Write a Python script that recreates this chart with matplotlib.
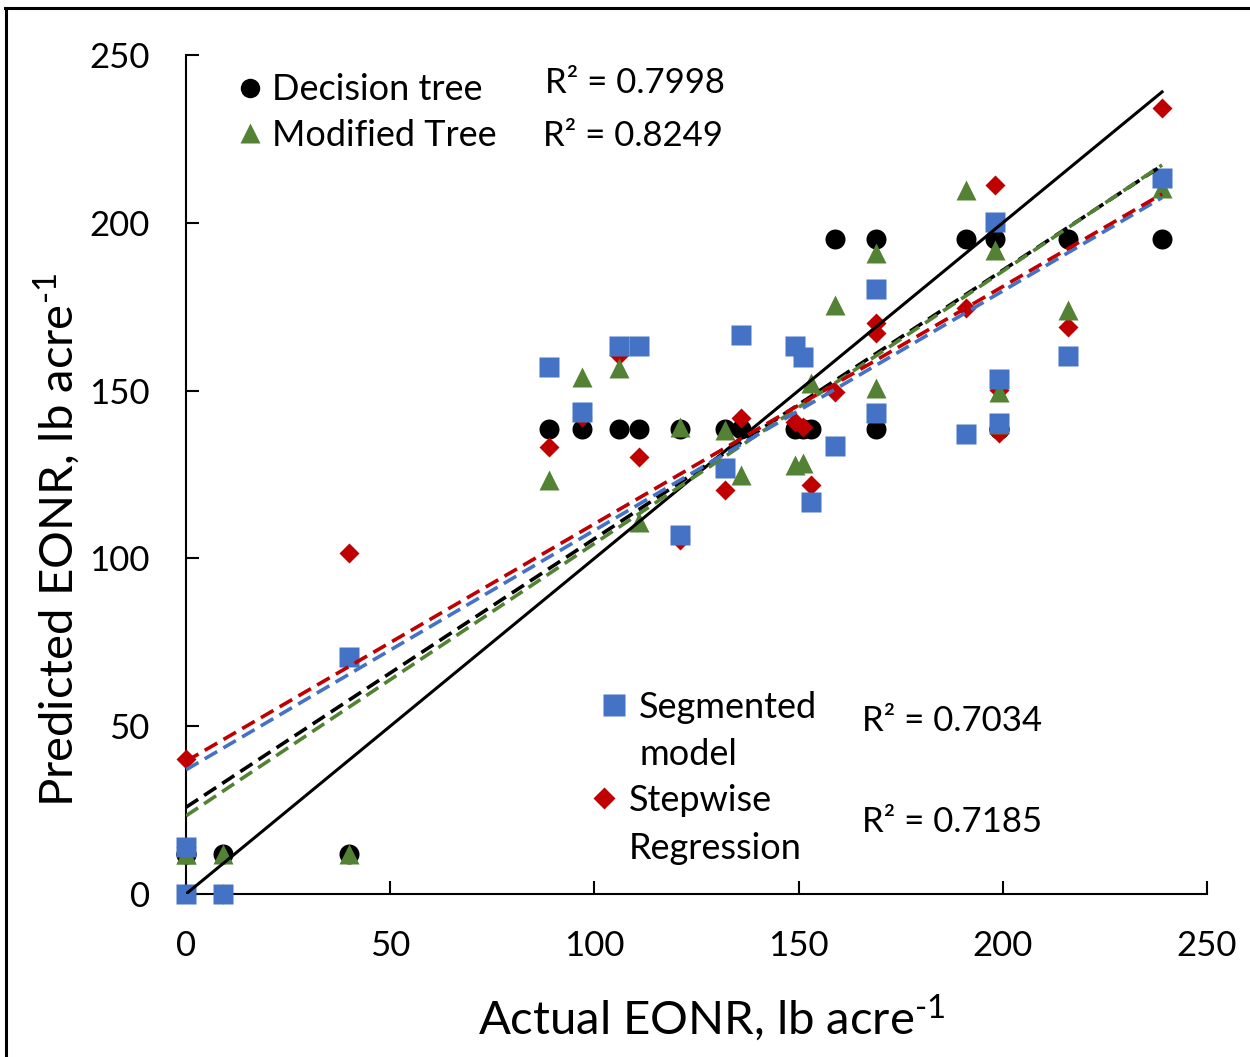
import numpy as np
import matplotlib
matplotlib.use('Agg')
import matplotlib.pyplot as plt
from matplotlib.lines import Line2D

plt.rcParams['font.family'] = ['Lato', 'DejaVu Sans']
plt.rcParams['mathtext.fontset'] = 'custom'
plt.rcParams['mathtext.rm'] = 'Lato'
plt.rcParams['mathtext.it'] = 'Lato:italic'

# ---- data (Actual vs Predicted EONR, lb/acre) ----
actual = [0, 0, 9, 40, 89, 97, 106, 111, 121, 132, 136, 149, 151, 153, 159, 169, 169,
          191, 198, 199, 199, 216, 239]

dt_pred = [12, 12, 12, 12, 138.6, 138.6, 138.6, 138.6, 138.6, 138.6, 138.6, 138.6, 138.6,
           138.6, 195.2, 195.2, 138.6, 195.2, 195.2, 138.6, 138.6, 195.2, 195.2]

mt_pred = [12, 12, 12, 12, 123.4, 153.9, 156.7, 110.8, 139.2, 138.3, 124.9, 127.8, 128.4,
           152.3, 175.5, 191.0, 150.8, 209.8, 191.9, 149.6, 140.0, 174.0, 210.4]

seg_pred = [14.1, 0, 0, 70.5, 156.9, 143.5, 163.4, 163.4, 107.0, 127.0, 166.7, 163.4, 160.1,
            116.9, 133.6, 180.2, 143.4, 137.0, 200.3, 153.6, 140.2, 160.3, 213.4]

sw_pred = [40.1, 14.0, 0, 101.5, 133.3, 142.0, 160.5, 130.3, 105.5, 120.4, 141.9, 140.7, 139.2,
           121.9, 149.7, 170.0, 167.2, 174.5, 211.4, 150.2, 137.4, 169.0, 234.1]

r2_labels = ['R² = 0.7998', 'R² = 0.8249', 'R² = 0.7034', 'R² = 0.7185']
ticks = [0, 50, 100, 150, 200, 250]

BLACK = '#000000'
GREEN = '#548235'
BLUE = '#4472C4'
RED = '#C00000'

fig = plt.figure(figsize=(12.5, 10.57), dpi=100)
ax = fig.add_axes([0.1488, 0.1542, 0.8168, 0.7938])

# markers (drawing order matters for overlaps)
ax.plot(actual, dt_pred, 'o', color=BLACK, ms=14.4, mec='none', zorder=3, clip_on=False)
ax.plot(actual, sw_pred, 'D', color=RED, ms=10.5, mec='none', zorder=4, clip_on=False)
ax.plot(actual, mt_pred, '^', color=GREEN, ms=14.4, mec='none', zorder=5, clip_on=False)
ax.plot(actual, seg_pred, 's', color=BLUE, ms=14.4, mec='none', zorder=6, clip_on=False)

# 1:1 line
x_all = np.array(actual, float)
xr = np.array([x_all.min(), x_all.max()])
ax.plot(xr, xr, '-', color=BLACK, lw=2.2, zorder=7)

# linear trendlines
for ys, c in [(dt_pred, BLACK), (mt_pred, GREEN), (seg_pred, BLUE), (sw_pred, RED)]:
    m, b = np.polyfit(x_all, np.array(ys, float), 1)
    ax.plot(xr, m * xr + b, '--', color=c, lw=2.6, dashes=(4, 2), zorder=8)

ax.set_xlim(0, 250)
ax.set_ylim(0, 250)
ax.set_xticks(ticks)
ax.set_yticks(ticks)
ax.tick_params(direction='in', length=9.5, width=1.5, labelsize=25)
ax.tick_params(axis='x', pad=26)
ax.tick_params(axis='y', pad=26)
for s in ['top', 'right']:
    ax.spines[s].set_visible(False)
for s in ['left', 'bottom']:
    ax.spines[s].set_linewidth(1.5)

ax.set_xlabel(r'Actual EONR, lb acre$^{\text{-1}}$', fontsize=34, va='center')
ax.set_ylabel(r'Predicted EONR, lb acre$^{\text{-1}}$', fontsize=34, va='center')
ax.xaxis.set_label_coords(0.515, -0.148)
ax.yaxis.set_label_coords(-0.1263, 0.422)

# legends
h_dt = Line2D([], [], marker='o', color=BLACK, ls='none', ms=14, mec='none')
h_mt = Line2D([], [], marker='^', color=GREEN, ls='none', ms=14, mec='none')
h_seg = Line2D([], [], marker='s', color=BLUE, ls='none', ms=16, mec='none')
h_sw = Line2D([], [], marker='D', color=RED, ls='none', ms=11, mec='none')
h_none = Line2D([], [], ls='none')

common = dict(loc='upper left', frameon=False, fontsize=26, handlelength=0.8,
              borderpad=0, borderaxespad=0)
leg1 = ax.legend([h_dt, h_mt], ['Decision tree', 'Modified Tree'],
                 bbox_to_anchor=(0.049, 0.978), labelspacing=0.34,
                 handletextpad=0.2, **common)
ax.add_artist(leg1)
leg2 = ax.legend([h_seg, h_none], ['Segmented', 'model'],
                 bbox_to_anchor=(0.405, 0.242), labelspacing=0.4,
                 handletextpad=0.3, **common)
ax.add_artist(leg2)
leg3 = ax.legend([h_sw, h_none], ['Stepwise', 'Regression'],
                 bbox_to_anchor=(0.395, 0.131), labelspacing=0.4,
                 handletextpad=0.3, **common)

r2_pos = [(0.352, 0.967), (0.350, 0.903), (0.662, 0.206), (0.662, 0.086)]
for txt, (px, py) in zip(r2_labels, r2_pos):
    ax.text(px, py, txt, transform=ax.transAxes, fontsize=25, va='center', ha='left')

# frame lines of the original screenshot
fig.add_artist(Line2D([0.004, 1.0], [0.9925, 0.9925], color='black', lw=2.2,
                      transform=fig.transFigure))
fig.add_artist(Line2D([0.005, 0.005], [0.0, 0.9925], color='black', lw=2.2,
                      transform=fig.transFigure))

fig.savefig('out.png', dpi=100)
